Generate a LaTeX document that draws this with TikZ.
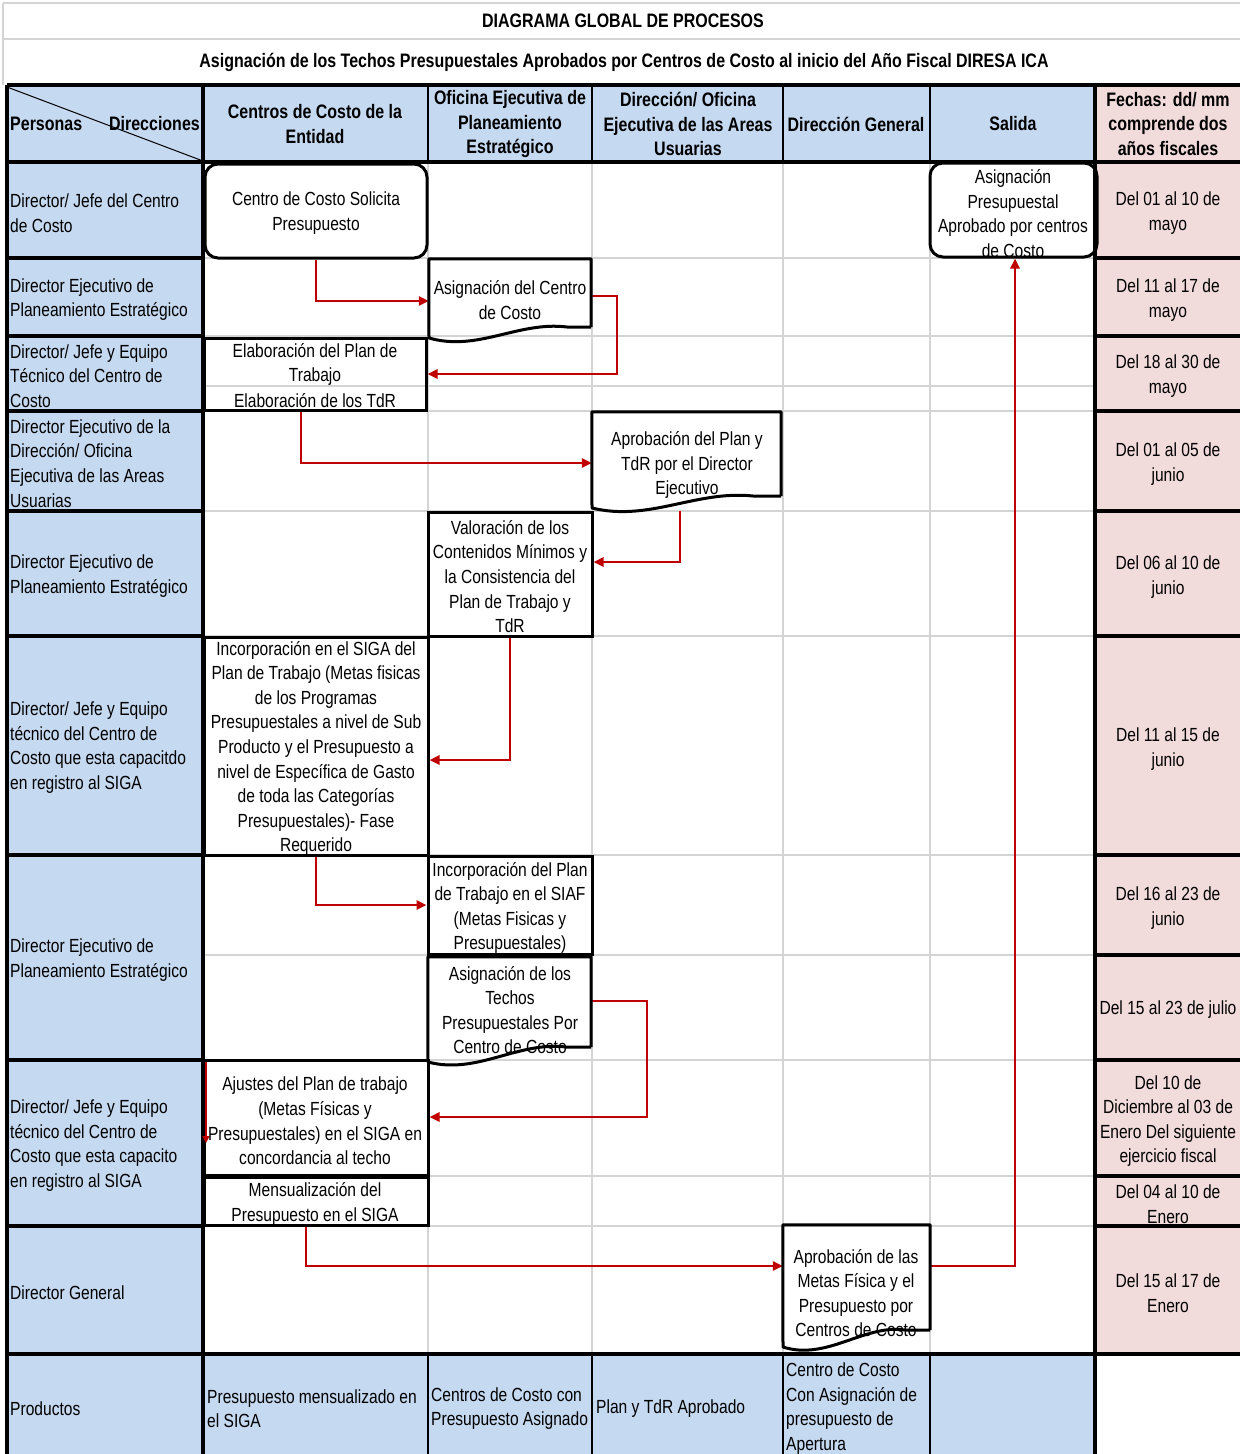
\documentclass[tikz,border=0pt]{standalone}
\usepackage{fontspec}
\setmainfont{Liberation Sans}[FakeStretch=0.82]
\usetikzlibrary{arrows.meta}
\definecolor{hdrblue}{RGB}{197,217,241}
\definecolor{datepink}{RGB}{242,220,219}
\definecolor{arrowred}{RGB}{192,0,0}
\definecolor{gridgray}{RGB}{212,212,212}
\newcommand\myfs{\fontsize{19}{24.6}\selectfont}
\newcommand\myhfs{\fontsize{19.5}{24.6}\selectfont}
\begin{document}
\begin{tikzpicture}[x=1pt,y=-1pt,
  txt/.style={font=\myfs, align=center, inner sep=0pt, yshift=-2pt},
  lbl/.style={font=\myfs, align=left, anchor=west, inner sep=0pt, yshift=-1.5pt},
  hdr/.style={font=\myhfs\bfseries, align=center, inner sep=0pt},
  boxr/.style={draw, line width=3pt, inner sep=0pt},
  rboxr/.style={boxr, rounded corners=13pt},
  docnode/.style={draw=none, inner sep=0pt},
  docline/.style={line width=3pt, line join=round},
  arr/.style={draw=arrowred, line width=2.8pt, -{Triangle[length=10pt,width=9pt]}},
  gridl/.style={draw=gridgray, line width=1.5pt},
  thickl/.style={line width=3.2pt}]
\useasboundingbox (0,0) rectangle (1240,1454);
\fill[white] (0,0) rectangle (1240,1454);
% fills
\fill[hdrblue] (7,85) rectangle (1095,162);
\fill[hdrblue] (7,162) rectangle (203,1454);
\fill[hdrblue] (203,1354) rectangle (1095,1454);
\fill[datepink] (1095,85) rectangle (1240,1354);
% gray grid
\draw[gridl] (3,3) -- (1240,3);
\draw[gridl] (3,39) -- (1240,39);
\draw[gridl] (3,3) -- (3,85);
\foreach \yy in {258,336,386,411,511,636,855,955,1060,1176,1226}
  \draw[gridl] (203,\yy) -- (1095,\yy);
\foreach \xx in {428,592,783,930}
  \draw[gridl] (\xx,162) -- (\xx,1354);
% black table lines
\draw[thickl] (7,85) -- (1240,85);
\draw[thickl] (7,162) -- (1240,162);
\draw[thickl] (7,1354) -- (1240,1354);
\draw[thickl] (7,85) -- (7,1454);
\draw[thickl] (203,85) -- (203,1454);
\draw[thickl] (1095,85) -- (1095,1454);
\foreach \yy in {258,336,411,511,636,855,1060,1226}
  \draw[thickl] (7,\yy) -- (203,\yy);
\foreach \yy in {258,336,411,511,636,855,955,1060,1176,1226}
  \draw[thickl] (1095,\yy) -- (1240,\yy);
\foreach \xx in {428,592,783,930}
  \draw[line width=2pt] (\xx,85) -- (\xx,162);
\foreach \xx in {428,592,783,930}
  \draw[line width=1.5pt] (\xx,1354) -- (\xx,1454);
\draw[line width=1pt] (7,87) -- (203,161);
% titles
\node[hdr] (title) at (623,21) {DIAGRAMA GLOBAL DE PROCESOS};
\node[hdr] (subtitle) at (624,62) {Asignación de los Techos Presupuestales Aprobados por Centros de Costo al inicio del Año Fiscal DIRESA ICA};
% header
\node[hdr, anchor=west] (hpers) at (10,124) {Personas};
\node[hdr, anchor=east] (hdir) at (200,124) {Direcciones};
\node[hdr] (hc2) at (315,124) {Centros de Costo de la\\Entidad};
\node[hdr] (hc3) at (510,124) {Oficina Ejecutiva de\\Planeamiento\\Estratégico};
\node[hdr] (hc4) at (688,124) {Dirección/ Oficina\\Ejecutiva de las Areas\\Usuarias};
\node[hdr] (hc5) at (856,124) {Dirección General};
\node[hdr] (hc6) at (1013,124) {Salida};
\node[hdr] (hc7) at (1168,124) {Fechas: dd/ mm\\comprende dos\\años fiscales};
% left column labels
\node[lbl] (r1) at (10,211.5) {Director/ Jefe del Centro\\de Costo};
\node[lbl] (r2) at (10,298) {Director Ejecutivo de\\Planeamiento Estratégico};
\node[lbl] (r3) at (10,374.5) {Director/ Jefe y Equipo\\Técnico del Centro de\\Costo};
\node[lbl] (r4) at (10,462) {Director Ejecutivo de la\\Dirección/ Oficina\\Ejecutiva de las Areas\\Usuarias};
\node[lbl] (r5) at (10,574.5) {Director Ejecutivo de\\Planeamiento Estratégico};
\node[lbl] (r6) at (10,746) {Director/ Jefe y Equipo\\técnico del Centro de\\Costo que esta capacitdo\\en registro al SIGA};
\node[lbl] (r7) at (10,958.5) {Director Ejecutivo de\\Planeamiento Estratégico};
\node[lbl] (r8) at (10,1144) {Director/ Jefe y Equipo\\técnico del Centro de\\Costo que esta capacito\\en registro al SIGA};
\node[lbl] (r9) at (10,1291) {Director General};
\node[lbl] (r10) at (10,1407) {Productos};
% dates
\node[txt] (d1) at (1168,211) {Del 01 al 10 de\\mayo};
\node[txt] (d2) at (1168,298) {Del 11 al 17 de\\mayo};
\node[txt] (d3) at (1168,374) {Del 18 al 30 de\\mayo};
\node[txt] (d4) at (1168,462) {Del 01 al 05 de\\junio};
\node[txt] (d5) at (1168,575) {Del 06 al 10 de\\junio};
\node[txt] (d6) at (1168,747) {Del 11 al 15 de\\junio};
\node[txt] (d7) at (1168,906) {Del 16 al 23 de\\junio};
\node[txt] (d8) at (1168,1008) {Del 15 al 23 de julio};
\node[txt] (d9) at (1168,1119) {Del 10 de\\Diciembre al 03 de\\Enero Del siguiente\\ejercicio fiscal};
\node[txt] (d10) at (1168,1202) {Del 04 al 10 de\\Enero};
\node[txt] (d11) at (1168,1291) {Del 15 al 17 de\\Enero};
% products row
\node[lbl] (p2) at (207,1407) {Presupuesto mensualizado en\\el SIGA};
\node[lbl] (p3) at (431,1407) {Centros de Costo con\\Presupuesto Asignado};
\node[lbl] (p4) at (596,1407) {Plan y TdR Aprobado};
\node[lbl] (p5) at (786,1407) {Centro de Costo\\Con Asignación de\\presupuesto de\\Apertura};
% process boxes (frames)
\node[rboxr, minimum width=222, minimum height=94] (n1) at (316,211) {};
\node[rboxr, minimum width=167, minimum height=94] (n2) at (1013.5,210) {};
\node[docnode, minimum width=162, minimum height=68] (n3) at (510,293) {};
\node[boxr, minimum width=222, minimum height=72] (n4) at (315,374) {};
\node[docnode, minimum width=189, minimum height=84] (n5) at (686.5,454) {};
\node[boxr, minimum width=164, minimum height=124] (n6) at (510,574) {};
\node[boxr, minimum width=224, minimum height=218] (n7) at (316,746) {};
\node[boxr, minimum width=164, minimum height=98] (n8) at (510,905) {};
\node[docnode, minimum width=163, minimum height=90] (n9) at (509.5,1002) {};
\node[boxr, minimum width=224, minimum height=115] (n10) at (316,1117.5) {};
\node[boxr, minimum width=224, minimum height=48] (n11) at (316,1201) {};
\node[docnode, minimum width=147, minimum height=105] (n12) at (856.5,1277.5) {};
% connectors
\coordinate (w5) at (680,511);
\draw[draw=arrowred, line width=1.2pt, -{Triangle[length=7pt,width=7pt]}] (206,1062) -- (206,1143);
\draw[arr] (n1.south) |- (n3.west |- 0,301);
\draw[arr] (n3.east |- 0,296) -- (617,296) -- (617,374) -- (n4.east |- 0,374);
\draw[arr] (n4.south -| 301,0) |- (n5.west |- 0,463);
\draw[arr] (w5) |- (n6.east |- 0,562);
\draw[arr] (n6.south) |- (n7.east |- 0,760);
\draw[arr] (n7.south) |- (n8.west);
\draw[arr] (n9.east |- 0,1001) -- (647,1001) |- (n10.east |- 0,1117);
\draw[arr] (n11.south -| 306,0) |- (n12.west |- 0,1266);
\draw[arr] (n12.east |- 0,1266) -| (n2.south -| 1015,0);
% document outlines
\draw[docline] (n3.south east) -- (n3.north east) -- (n3.north west) -- (429,338)
  .. controls (478,352) and (518,321) .. (567,327) -- (n3.south east);
\draw[docline] (n5.south east) -- (n5.north east) -- (n5.north west) -- (592,508)
  .. controls (649,522) and (696,490) .. (753,496) -- (n5.south east);
\draw[docline] (n9.south east) -- (n9.north east) -- (n9.north west) -- (428,1062)
  .. controls (477,1075) and (518,1041) .. (566,1047) -- (n9.south east);
\draw[docline] (n12.south east) -- (n12.north east) -- (n12.north west) -- (783,1347)
  .. controls (827,1361) and (864,1324) .. (905,1330) -- (n12.south east);
% box texts
\node[txt] (t1) at (n1) {Centro de Costo Solicita\\Presupuesto};
\node[txt] (t2) at (1013,211.5) {Asignación\\Presupuestal\\Aprobado por centros\\de Costo};
\node[txt] (t3) at (510,298) {Asignación del Centro\\de Costo};
\node[txt] (t4a) at (315,362.5) {Elaboración del Plan de\\Trabajo};
\node[txt] (t4b) at (315,399) {Elaboración de los TdR};
\node[txt] (t5) at (687,463) {Aprobación del Plan y\\TdR por el Director\\Ejecutivo};
\node[txt] (t6) at (510,574.5) {Valoración de los\\Contenidos Mínimos y\\la Consistencia del\\Plan de Trabajo y\\TdR};
\node[txt] (t7) at (316,746.5) {Incorporación en el SIGA del\\Plan de Trabajo (Metas fisicas\\de los Programas\\Presupuestales a nivel de Sub\\Producto y el Presupuesto a\\nivel de Específica de Gasto\\de toda las Categorías\\Presupuestales)- Fase\\Requerido};
\node[txt] (t8) at (510,906) {Incorporación del Plan\\de Trabajo en el SIAF\\(Metas Fisicas y\\Presupuestales)};
\node[txt] (t9) at (510,1008) {Asignación de los\\Techos\\Presupuestales Por\\Centro de Costo};
\node[txt] (t10) at (315,1119) {Ajustes del Plan de trabajo\\(Metas Físicas y\\Presupuestales) en el SIGA en\\concordancia al techo};
\node[txt] (t11) at (315,1202) {Mensualización del\\Presupuesto en el SIGA};
\node[txt] (t12) at (856,1291) {Aprobación de las\\Metas Física y el\\Presupuesto por\\Centros de Costo};
\end{tikzpicture}
\end{document}
